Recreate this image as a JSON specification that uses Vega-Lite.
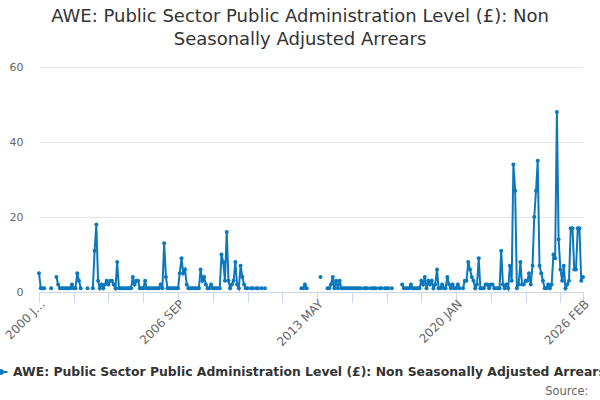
{
  "$schema": "https://vega.github.io/schema/vega-lite/v6.json",
  "width": 544,
  "height": 225,
  "autosize": "none",
  "padding": {"left": 39, "top": 67, "right": 17, "bottom": 108},
  "background": "#ffffff",
  "config": {
    "font": "DejaVu Sans",
    "view": {"stroke": null}
  },
  "title": {
    "text": ["AWE: Public Sector Public Administration Level (£): Non", "Seasonally Adjusted Arrears"],
    "fontSize": 18,
    "fontWeight": "normal",
    "color": "#333333",
    "anchor": "middle",
    "dx": -11,
    "lineHeight": 23,
    "offset": 12
  },
  "data": {
    "values": [
      {"d": "2000-01", "v": 5}, {"d": "2000-02", "v": 1}, {"d": "2000-03", "v": 1}, {"d": "2000-04", "v": 1},
      {"d": "2000-05", "v": null}, {"d": "2000-06", "v": null}, {"d": "2000-07", "v": null}, {"d": "2000-08", "v": 1},
      {"d": "2000-09", "v": null}, {"d": "2000-10", "v": null}, {"d": "2000-11", "v": 4}, {"d": "2000-12", "v": 2},
      {"d": "2001-01", "v": 1}, {"d": "2001-02", "v": 1}, {"d": "2001-03", "v": 1}, {"d": "2001-04", "v": 1},
      {"d": "2001-05", "v": 1}, {"d": "2001-06", "v": 1}, {"d": "2001-07", "v": 1}, {"d": "2001-08", "v": 2},
      {"d": "2001-09", "v": 1}, {"d": "2001-10", "v": 1}, {"d": "2001-11", "v": 5}, {"d": "2001-12", "v": 3},
      {"d": "2002-01", "v": 1}, {"d": "2002-02", "v": null}, {"d": "2002-03", "v": null}, {"d": "2002-04", "v": null},
      {"d": "2002-05", "v": 1}, {"d": "2002-06", "v": null}, {"d": "2002-07", "v": null}, {"d": "2002-08", "v": 1},
      {"d": "2002-09", "v": 11}, {"d": "2002-10", "v": 18}, {"d": "2002-11", "v": 3}, {"d": "2002-12", "v": 1},
      {"d": "2003-01", "v": 2}, {"d": "2003-02", "v": 1}, {"d": "2003-03", "v": 2}, {"d": "2003-04", "v": 3},
      {"d": "2003-05", "v": 2}, {"d": "2003-06", "v": 3}, {"d": "2003-07", "v": 3}, {"d": "2003-08", "v": 2},
      {"d": "2003-09", "v": 1}, {"d": "2003-10", "v": 8}, {"d": "2003-11", "v": 1}, {"d": "2003-12", "v": 1},
      {"d": "2004-01", "v": 1}, {"d": "2004-02", "v": 1}, {"d": "2004-03", "v": 1}, {"d": "2004-04", "v": 1},
      {"d": "2004-05", "v": 1}, {"d": "2004-06", "v": 1}, {"d": "2004-07", "v": 4}, {"d": "2004-08", "v": 2},
      {"d": "2004-09", "v": 3}, {"d": "2004-10", "v": 3}, {"d": "2004-11", "v": 1}, {"d": "2004-12", "v": 1},
      {"d": "2005-01", "v": 1}, {"d": "2005-02", "v": 3}, {"d": "2005-03", "v": 1}, {"d": "2005-04", "v": 1},
      {"d": "2005-05", "v": 1}, {"d": "2005-06", "v": 1}, {"d": "2005-07", "v": 1}, {"d": "2005-08", "v": 1},
      {"d": "2005-09", "v": 1}, {"d": "2005-10", "v": 1}, {"d": "2005-11", "v": 2}, {"d": "2005-12", "v": 1},
      {"d": "2006-01", "v": 13}, {"d": "2006-02", "v": 4}, {"d": "2006-03", "v": 1}, {"d": "2006-04", "v": 1},
      {"d": "2006-05", "v": 1}, {"d": "2006-06", "v": 1}, {"d": "2006-07", "v": 1}, {"d": "2006-08", "v": 1},
      {"d": "2006-09", "v": 1}, {"d": "2006-10", "v": 5}, {"d": "2006-11", "v": 9}, {"d": "2006-12", "v": 5},
      {"d": "2007-01", "v": 6}, {"d": "2007-02", "v": 2}, {"d": "2007-03", "v": 1}, {"d": "2007-04", "v": 1},
      {"d": "2007-05", "v": 1}, {"d": "2007-06", "v": 1}, {"d": "2007-07", "v": 1}, {"d": "2007-08", "v": 1},
      {"d": "2007-09", "v": 1}, {"d": "2007-10", "v": 6}, {"d": "2007-11", "v": 3}, {"d": "2007-12", "v": 4},
      {"d": "2008-01", "v": 2}, {"d": "2008-02", "v": 1}, {"d": "2008-03", "v": 1}, {"d": "2008-04", "v": 2},
      {"d": "2008-05", "v": 1}, {"d": "2008-06", "v": 1}, {"d": "2008-07", "v": 1}, {"d": "2008-08", "v": 1},
      {"d": "2008-09", "v": 1}, {"d": "2008-10", "v": 10}, {"d": "2008-11", "v": 8}, {"d": "2008-12", "v": 3},
      {"d": "2009-01", "v": 16}, {"d": "2009-02", "v": 3}, {"d": "2009-03", "v": 1}, {"d": "2009-04", "v": 2},
      {"d": "2009-05", "v": 3}, {"d": "2009-06", "v": 8}, {"d": "2009-07", "v": 2}, {"d": "2009-08", "v": 1},
      {"d": "2009-09", "v": 7}, {"d": "2009-10", "v": 4}, {"d": "2009-11", "v": 2}, {"d": "2009-12", "v": 1},
      {"d": "2010-01", "v": 1}, {"d": "2010-02", "v": null}, {"d": "2010-03", "v": 1}, {"d": "2010-04", "v": 1},
      {"d": "2010-05", "v": null}, {"d": "2010-06", "v": 1}, {"d": "2010-07", "v": 1}, {"d": "2010-08", "v": null},
      {"d": "2010-09", "v": 1}, {"d": "2010-10", "v": null}, {"d": "2010-11", "v": 1}, {"d": "2010-12", "v": null},
      {"d": "2011-01", "v": null}, {"d": "2011-02", "v": null}, {"d": "2011-03", "v": null}, {"d": "2011-04", "v": null},
      {"d": "2011-05", "v": null}, {"d": "2011-06", "v": null}, {"d": "2011-07", "v": null}, {"d": "2011-08", "v": null},
      {"d": "2011-09", "v": null}, {"d": "2011-10", "v": null}, {"d": "2011-11", "v": null}, {"d": "2011-12", "v": null},
      {"d": "2012-01", "v": null}, {"d": "2012-02", "v": null}, {"d": "2012-03", "v": null}, {"d": "2012-04", "v": null},
      {"d": "2012-05", "v": null}, {"d": "2012-06", "v": null}, {"d": "2012-07", "v": null}, {"d": "2012-08", "v": 1},
      {"d": "2012-09", "v": 1}, {"d": "2012-10", "v": 2}, {"d": "2012-11", "v": 1}, {"d": "2012-12", "v": null},
      {"d": "2013-01", "v": null}, {"d": "2013-02", "v": null}, {"d": "2013-03", "v": null}, {"d": "2013-04", "v": null},
      {"d": "2013-05", "v": null}, {"d": "2013-06", "v": null}, {"d": "2013-07", "v": 4}, {"d": "2013-08", "v": null},
      {"d": "2013-09", "v": null}, {"d": "2013-10", "v": null}, {"d": "2013-11", "v": 1}, {"d": "2013-12", "v": 1},
      {"d": "2014-01", "v": 2}, {"d": "2014-02", "v": 4}, {"d": "2014-03", "v": 1}, {"d": "2014-04", "v": 3},
      {"d": "2014-05", "v": 1}, {"d": "2014-06", "v": 3}, {"d": "2014-07", "v": 1}, {"d": "2014-08", "v": 1},
      {"d": "2014-09", "v": 1}, {"d": "2014-10", "v": 1}, {"d": "2014-11", "v": 1}, {"d": "2014-12", "v": 1},
      {"d": "2015-01", "v": 1}, {"d": "2015-02", "v": 1}, {"d": "2015-03", "v": 1}, {"d": "2015-04", "v": 1},
      {"d": "2015-05", "v": 1}, {"d": "2015-06", "v": 1}, {"d": "2015-07", "v": null}, {"d": "2015-08", "v": 1},
      {"d": "2015-09", "v": 1}, {"d": "2015-10", "v": 1}, {"d": "2015-11", "v": null}, {"d": "2015-12", "v": 1},
      {"d": "2016-01", "v": 1}, {"d": "2016-02", "v": 1}, {"d": "2016-03", "v": 1}, {"d": "2016-04", "v": null},
      {"d": "2016-05", "v": 1}, {"d": "2016-06", "v": 1}, {"d": "2016-07", "v": null}, {"d": "2016-08", "v": 1},
      {"d": "2016-09", "v": 1}, {"d": "2016-10", "v": 1}, {"d": "2016-11", "v": null}, {"d": "2016-12", "v": 1},
      {"d": "2017-01", "v": null}, {"d": "2017-02", "v": null}, {"d": "2017-03", "v": null}, {"d": "2017-04", "v": null},
      {"d": "2017-05", "v": null}, {"d": "2017-06", "v": 2}, {"d": "2017-07", "v": 1}, {"d": "2017-08", "v": 1},
      {"d": "2017-09", "v": 1}, {"d": "2017-10", "v": 1}, {"d": "2017-11", "v": 2}, {"d": "2017-12", "v": 1},
      {"d": "2018-01", "v": 1}, {"d": "2018-02", "v": 1}, {"d": "2018-03", "v": 1}, {"d": "2018-04", "v": 1},
      {"d": "2018-05", "v": 3}, {"d": "2018-06", "v": 2}, {"d": "2018-07", "v": 4}, {"d": "2018-08", "v": 1},
      {"d": "2018-09", "v": 3}, {"d": "2018-10", "v": 2}, {"d": "2018-11", "v": 3}, {"d": "2018-12", "v": 1},
      {"d": "2019-01", "v": 2}, {"d": "2019-02", "v": 6}, {"d": "2019-03", "v": 1}, {"d": "2019-04", "v": 1},
      {"d": "2019-05", "v": 2}, {"d": "2019-06", "v": 1}, {"d": "2019-07", "v": 1}, {"d": "2019-08", "v": 4},
      {"d": "2019-09", "v": 2}, {"d": "2019-10", "v": 1}, {"d": "2019-11", "v": 2}, {"d": "2019-12", "v": 1},
      {"d": "2020-01", "v": 1}, {"d": "2020-02", "v": 2}, {"d": "2020-03", "v": 1}, {"d": "2020-04", "v": null},
      {"d": "2020-05", "v": 1}, {"d": "2020-06", "v": 3}, {"d": "2020-07", "v": 3}, {"d": "2020-08", "v": 8},
      {"d": "2020-09", "v": 6}, {"d": "2020-10", "v": 4}, {"d": "2020-11", "v": 3}, {"d": "2020-12", "v": 1},
      {"d": "2021-01", "v": 2}, {"d": "2021-02", "v": 9}, {"d": "2021-03", "v": 1}, {"d": "2021-04", "v": 1},
      {"d": "2021-05", "v": 1}, {"d": "2021-06", "v": 2}, {"d": "2021-07", "v": 2}, {"d": "2021-08", "v": 1},
      {"d": "2021-09", "v": 2}, {"d": "2021-10", "v": 2}, {"d": "2021-11", "v": 1}, {"d": "2021-12", "v": 1},
      {"d": "2022-01", "v": 1}, {"d": "2022-02", "v": 1}, {"d": "2022-03", "v": 11}, {"d": "2022-04", "v": 2},
      {"d": "2022-05", "v": 1}, {"d": "2022-06", "v": 2}, {"d": "2022-07", "v": 1}, {"d": "2022-08", "v": 7},
      {"d": "2022-09", "v": 3}, {"d": "2022-10", "v": 34}, {"d": "2022-11", "v": 27}, {"d": "2022-12", "v": 1},
      {"d": "2023-01", "v": 2}, {"d": "2023-02", "v": 8}, {"d": "2023-03", "v": 2}, {"d": "2023-04", "v": 2},
      {"d": "2023-05", "v": 3}, {"d": "2023-06", "v": 3}, {"d": "2023-07", "v": 5}, {"d": "2023-08", "v": 2},
      {"d": "2023-09", "v": 7}, {"d": "2023-10", "v": 20}, {"d": "2023-11", "v": 27}, {"d": "2023-12", "v": 35},
      {"d": "2024-01", "v": 7}, {"d": "2024-02", "v": 5}, {"d": "2024-03", "v": 3}, {"d": "2024-04", "v": 1},
      {"d": "2024-05", "v": 1}, {"d": "2024-06", "v": 2}, {"d": "2024-07", "v": 1}, {"d": "2024-08", "v": 2},
      {"d": "2024-09", "v": 10}, {"d": "2024-10", "v": 9}, {"d": "2024-11", "v": 48}, {"d": "2024-12", "v": 14},
      {"d": "2025-01", "v": 6}, {"d": "2025-02", "v": 3}, {"d": "2025-03", "v": 7}, {"d": "2025-04", "v": 1},
      {"d": "2025-05", "v": 2}, {"d": "2025-06", "v": 3}, {"d": "2025-07", "v": 17}, {"d": "2025-08", "v": 17},
      {"d": "2025-09", "v": 6}, {"d": "2025-10", "v": 6}, {"d": "2025-11", "v": 17}, {"d": "2025-12", "v": 17},
      {"d": "2026-01", "v": 3}, {"d": "2026-02", "v": 4}
    ]
  },
  "mark": {
    "type": "line",
    "strokeWidth": 2,
    "invalid": "break-paths-filter-domains",
    "point": {"filled": true, "size": 16}
  },
  "encoding": {
    "x": {
      "field": "d",
      "type": "temporal",
      "scale": {
        "type": "utc",
        "domain": [
          {"year": 2000, "month": 1, "date": 1, "utc": true},
          {"year": 2026, "month": 2, "date": 1, "utc": true}
        ]
      },
      "axis": {
        "title": "Source:",
        "titleFontSize": 11.5,
        "titleFontWeight": "normal",
        "titleColor": "#666666",
        "titleAnchor": "end",
        "titleAlign": "right",
        "titleBaseline": "alphabetic",
        "titleX": 549,
        "titleY": 102,
        "grid": false,
        "domainColor": "#ccd6eb",
        "tickColor": "#ccd6eb",
        "tickSize": 10,
        "labelAngle": -45,
        "labelColor": "#666666",
        "labelFontSize": 12,
        "labelPadding": -4,
        "labelOverlap": false,
        "labelFlush": false,
        "values": [
          {"year": 2000, "month": 1, "date": 1, "utc": true},
          {"year": 2001, "month": 9, "date": 1, "utc": true},
          {"year": 2003, "month": 5, "date": 1, "utc": true},
          {"year": 2005, "month": 1, "date": 1, "utc": true},
          {"year": 2006, "month": 9, "date": 1, "utc": true},
          {"year": 2008, "month": 5, "date": 1, "utc": true},
          {"year": 2010, "month": 1, "date": 1, "utc": true},
          {"year": 2011, "month": 9, "date": 1, "utc": true},
          {"year": 2013, "month": 5, "date": 1, "utc": true},
          {"year": 2015, "month": 1, "date": 1, "utc": true},
          {"year": 2016, "month": 9, "date": 1, "utc": true},
          {"year": 2018, "month": 5, "date": 1, "utc": true},
          {"year": 2020, "month": 1, "date": 1, "utc": true},
          {"year": 2021, "month": 9, "date": 1, "utc": true},
          {"year": 2023, "month": 5, "date": 1, "utc": true},
          {"year": 2025, "month": 1, "date": 1, "utc": true},
          {"year": 2026, "month": 2, "date": 1, "utc": true}
        ],
        "labelExpr": "utcFormat(datum.value, '%Y-%m') == '2000-01' ? '2000 J…' : indexof(['2006-09', '2013-05', '2020-01', '2026-02'], utcFormat(datum.value, '%Y-%m')) >= 0 ? upper(utcFormat(datum.value, '%Y %b')) : ''"
      }
    },
    "y": {
      "field": "v",
      "type": "quantitative",
      "scale": {"domain": [0, 60], "nice": false},
      "axis": {
        "title": null,
        "values": [0, 20, 40, 60],
        "domain": false,
        "ticks": false,
        "tickSize": 0,
        "labelPadding": 16,
        "labelColor": "#666666",
        "labelFontSize": 11,
        "gridColor": "#e6e6e6"
      }
    },
    "color": {
      "datum": "AWE: Public Sector Public Administration Level (£): Non Seasonally Adjusted Arrears",
      "scale": {"range": ["#0b78be"]},
      "legend": {
        "title": null,
        "orient": "none",
        "legendX": -46,
        "legendY": 297,
        "labelFontSize": 12.4,
        "labelFontWeight": "bold",
        "labelColor": "#333333",
        "labelLimit": 1000,
        "symbolType": "M-1,0L1,0M0.3,0A0.3,0.3 0 1,1 -0.3,0A0.3,0.3 0 1,1 0.3,0",
        "symbolSize": 170,
        "symbolStrokeWidth": 2,
        "symbolFillColor": "#0b78be",
        "symbolStrokeColor": "#0b78be"
      }
    }
  }
}
